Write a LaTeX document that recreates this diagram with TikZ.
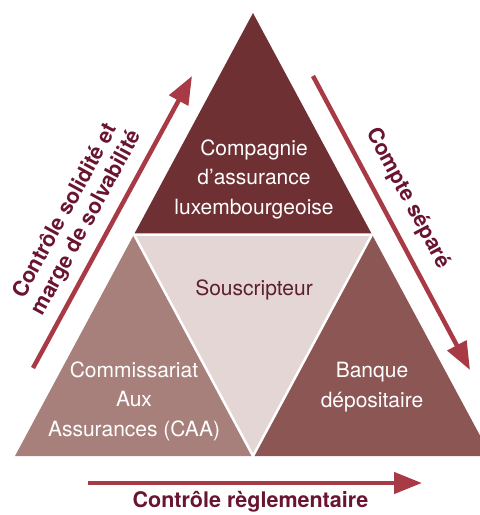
\documentclass[tikz,border=0pt]{standalone}
\usepackage{fontspec}
\setmainfont{TeX Gyre Heros}
\usetikzlibrary{arrows.meta}
\definecolor{topc}{HTML}{6F3034}
\definecolor{leftc}{HTML}{A8807B}
\definecolor{rightc}{HTML}{8C5654}
\definecolor{centc}{HTML}{E3D6D4}
\definecolor{arrc}{HTML}{A83A46}
\definecolor{labc}{HTML}{6A1530}
\definecolor{soustxt}{HTML}{5C1F2E}
\begin{document}
\begin{tikzpicture}[x=1pt,y=-1pt,
  arr/.style={draw=arrc, line width=4.5pt, -{Triangle[length=28pt,width=21pt]}},
  intext/.style={text=white, align=center, font=\fontsize{21}{29.5}\selectfont, inner sep=0pt},
  lab/.style={text=labc, align=center, font=\fontsize{21.5}{24.5}\selectfont\bfseries, inner sep=0pt}]
\useasboundingbox (0,0) rectangle (480,515);
\begin{scope}
\clip (0,0) rectangle (480,515);
\coordinate (T) at (253,13);
\coordinate (L) at (15,456);
\coordinate (R) at (491,456);
\coordinate (ML) at (134,234.5);
\coordinate (MR) at (372,234.5);
\coordinate (MB) at (253,456);
\fill[topc] (T) -- (ML) -- (MR) -- cycle;
\fill[leftc] (ML) -- (L) -- (MB) -- cycle;
\fill[rightc] (MR) -- (MB) -- (R) -- cycle;
\fill[centc] (ML) -- (MR) -- (MB) -- cycle;
\draw[white, line width=2.5pt, line join=miter] (ML) -- (MR) -- (MB) -- cycle;
\end{scope}
\node[intext] (comp) at (254,179) {Compagnie\\d’assurance\\luxembourgeoise};
\node[intext, text=soustxt] (sous) at (254,290) {Souscripteur};
\node[intext] (caa) at (134,401) {Commissariat\\Aux\\Assurances (CAA)};
\node[intext] (banq) at (372,387) {Banque\\dépositaire};
\coordinate (a1s) at (33,368);
\coordinate (a1e) at (192,76);
\coordinate (a2s) at (313,76);
\coordinate (a2e) at (470,370);
\coordinate (a3s) at (88,483);
\coordinate (a3e) at (422,483);
\draw[arr] (a1s) -- (a1e) node[lab, pos=0.5, sloped, anchor=center, yshift=34pt, xshift=-13pt] (l1) {Contrôle solidité et\\marge de solvabilité};
\draw[arr] (a2s) -- (a2e) node[lab, pos=0.5, sloped, anchor=center, yshift=26pt, xshift=-14pt] (l2) {Compte séparé};
\draw[arr] (a3s) -- (a3e);
\node[lab, anchor=base] (l3) at (250.5,507) {Contrôle règlementaire};
\end{tikzpicture}
\end{document}
